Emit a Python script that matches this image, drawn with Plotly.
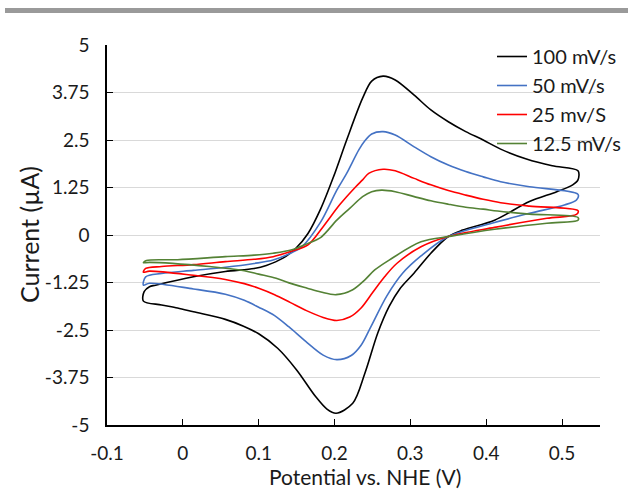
import plotly.graph_objects as go

# ---- data (potential V, current uA) ----
series_names = ["100 mV/s", "50 mV/s", "25 mv/S", "12.5 mV/s"]
series_colors = ["#000000", "#4472C4", "#FF0000", "#548235"]

pot_100 = [-0.052, -0.051, -0.044, -0.036, 0.014, 0.056, 0.094, 0.110, 0.132, 0.149, 0.165, 0.182, 0.199,
           0.216, 0.237, 0.249, 0.264, 0.280, 0.305, 0.327, 0.350, 0.373, 0.396, 0.419, 0.453, 0.487, 0.521,
           0.521, 0.514, 0.493, 0.457, 0.411, 0.369, 0.350, 0.327, 0.305, 0.286, 0.272, 0.257, 0.240,
           0.224, 0.202, 0.190, 0.175, 0.150, 0.125, 0.100, 0.080, 0.056, 0.014, -0.007, -0.028, -0.052]
cur_100 = [-1.74, -1.49, -1.36, -1.32, -1.10, -0.96, -0.88, -0.80, -0.61, -0.35, 0.04, 0.70, 1.55,
           2.50, 3.60, 4.05, 4.18, 4.08, 3.68, 3.29, 2.98, 2.72, 2.50, 2.26, 2.00, 1.82, 1.69,
           1.45, 1.32, 1.14, 0.88, 0.39, 0.13, -0.04, -0.48, -1.00, -1.42, -1.88, -2.58, -3.64,
           -4.43, -4.69, -4.58, -4.25, -3.55, -2.98, -2.60, -2.40, -2.22, -2.02, -1.92, -1.84, -1.74]

pot_50 = [-0.052, -0.049, -0.028, 0.014, 0.056, 0.094, 0.119, 0.144, 0.157, 0.182, 0.203, 0.216, 0.232,
          0.240, 0.249, 0.264, 0.280, 0.305, 0.327, 0.350, 0.373, 0.396, 0.419, 0.457, 0.521,
          0.519, 0.503, 0.457, 0.411, 0.350, 0.314, 0.290, 0.269, 0.248, 0.235, 0.222, 0.203, 0.185,
          0.162, 0.140, 0.121, 0.100, 0.081, 0.056, 0.014, -0.044, -0.052]
cur_50 = [-1.32, -1.10, -1.01, -0.93, -0.85, -0.75, -0.66, -0.46, -0.31, 0.35, 1.18, 1.62, 2.24,
          2.48, 2.66, 2.72, 2.63, 2.32, 2.06, 1.84, 1.67, 1.53, 1.40, 1.27, 1.07,
          0.92, 0.79, 0.57, 0.33, -0.04, -0.55, -1.00, -1.60, -2.41, -2.90, -3.17, -3.28, -3.16,
          -2.80, -2.42, -2.12, -1.90, -1.72, -1.56, -1.42, -1.27, -1.32]

pot_25 = [-0.052, -0.049, -0.028, 0.014, 0.056, 0.094, 0.119, 0.144, 0.165, 0.185, 0.207, 0.228, 0.237,
          0.245, 0.264, 0.280, 0.305, 0.327, 0.350, 0.373, 0.396, 0.419, 0.457, 0.521,
          0.519, 0.480, 0.411, 0.350, 0.314, 0.282, 0.266, 0.250, 0.235, 0.220, 0.203, 0.185, 0.163,
          0.142, 0.121, 0.100, 0.081, 0.056, 0.014, -0.044, -0.052]
cur_25 = [-0.98, -0.88, -0.83, -0.78, -0.70, -0.64, -0.57, -0.42, -0.26, 0.22, 0.80, 1.27, 1.45,
          1.62, 1.73, 1.69, 1.49, 1.32, 1.17, 1.05, 0.94, 0.85, 0.76, 0.64,
          0.54, 0.44, 0.20, -0.04, -0.31, -0.75, -1.10, -1.52, -1.92, -2.16, -2.25, -2.17, -1.99,
          -1.78, -1.57, -1.40, -1.28, -1.17, -1.06, -0.95, -0.98]

pot_12 = [-0.052, -0.048, -0.007, 0.056, 0.094, 0.119, 0.144, 0.165, 0.182, 0.203, 0.220, 0.237, 0.249,
          0.262, 0.280, 0.305, 0.327, 0.350, 0.373, 0.396, 0.415, 0.457, 0.521,
          0.521, 0.480, 0.411, 0.354, 0.314, 0.272, 0.253, 0.240, 0.224, 0.202, 0.182, 0.164,
          0.140, 0.123, 0.100, 0.081, 0.035, -0.044, -0.052]
cur_12 = [-0.73, -0.67, -0.65, -0.57, -0.53, -0.48, -0.39, -0.22, -0.06, 0.39, 0.70, 1.01, 1.14,
          1.18, 1.14, 1.01, 0.90, 0.81, 0.73, 0.68, 0.63, 0.55, 0.46,
          0.39, 0.31, 0.15, -0.03, -0.18, -0.66, -0.92, -1.18, -1.44, -1.57, -1.50, -1.40,
          -1.26, -1.14, -1.03, -0.94, -0.83, -0.72, -0.73]

x_tick_vals = [-0.1, 0, 0.1, 0.2, 0.3, 0.4, 0.5]
x_tick_text = ["-0.1", "0", "0.1", "0.2", "0.3", "0.4", "0.5"]
y_tick_vals = [5, 3.75, 2.5, 1.25, 0, -1.25, -2.5, -3.75, -5]
y_tick_text = ["5", "3.75", "2.5", "1.25", "0", "-1.25", "-2.5", "-3.75", "-5"]
x_title = "Potential vs. NHE (V)"
y_title = "Current (µA)"

FONT = "Lato"
TXT = "#1a1a1a"

fig = go.Figure()
for name, color, xs, ys in zip(series_names, series_colors,
                               [pot_100, pot_50, pot_25, pot_12],
                               [cur_100, cur_50, cur_25, cur_12]):
    fig.add_trace(go.Scatter(x=xs, y=ys, mode="lines", name=name,
                             line=dict(color=color, width=1.6, shape="spline", smoothing=0.9)))

W, H = 628, 489
L, R, T, B = 107, 28, 45, 64
pw, ph = W - L - R, H - T - B

def px_to_paper_x(px):
    return (px - L) / pw

def py_to_paper_y(py):
    return (H - B - py) / ph

fig.update_layout(
    width=W, height=H,
    margin=dict(l=L, r=R, t=T, b=B, autoexpand=False),
    paper_bgcolor="white", plot_bgcolor="white",
    font=dict(family=FONT, color=TXT, size=18),
    showlegend=True,
    legend=dict(x=px_to_paper_x(492), y=py_to_paper_y(37), xanchor="left", yanchor="top",
                bgcolor="rgba(0,0,0,0)", borderwidth=0, font=dict(family=FONT, size=20, color=TXT),
                itemwidth=30),
    shapes=[
        # grey rule across the top of the figure
        dict(type="rect", xref="paper", yref="paper",
             x0=px_to_paper_x(5), x1=px_to_paper_x(628),
             y0=py_to_paper_y(13), y1=py_to_paper_y(8),
             fillcolor="#9a9a9a", line=dict(width=0), layer="above"),
        # white legend area hiding gridlines (but not the curves)
        dict(type="rect", xref="paper", yref="paper",
             x0=px_to_paper_x(522), x1=px_to_paper_x(628),
             y0=py_to_paper_y(153), y1=py_to_paper_y(30),
             fillcolor="white", line=dict(width=0), layer="between"),
    ],
    annotations=[
        dict(text=x_title, xref="paper", yref="paper",
             x=px_to_paper_x(365), y=py_to_paper_y(476), xanchor="center", yanchor="middle",
             showarrow=False, font=dict(family=FONT, size=21, color=TXT)),
        dict(text=y_title, xref="paper", yref="paper", textangle=-90,
             x=px_to_paper_x(29), y=py_to_paper_y(235), xanchor="center", yanchor="middle",
             showarrow=False, font=dict(family=FONT, size=25, color=TXT)),
    ],
)

fig.update_xaxes(range=[-0.1, 0.55], tickvals=x_tick_vals, ticktext=x_tick_text,
                 showgrid=False, zeroline=False, showline=True, linecolor="black", linewidth=1.5,
                 ticks="inside", ticklen=6, tickwidth=1.3, tickcolor="black",
                 ticklabelstandoff=10,
                 tickfont=dict(family=FONT, size=19, color=TXT))
fig.update_yaxes(range=[-5, 5], tickvals=y_tick_vals, ticktext=y_tick_text,
                 showgrid=True, gridcolor="#d9d9d9", gridwidth=1, zeroline=False,
                 showline=True, linecolor="black", linewidth=1.5,
                 ticks="inside", ticklen=6, tickwidth=1.3, tickcolor="black",
                 ticklabelstandoff=12,
                 tickfont=dict(family=FONT, size=19, color=TXT))

fig.write_html("out.html", config={"displayModeBar": False},
               post_script="document.body.style.margin='0';document.body.style.overflow='hidden';")
